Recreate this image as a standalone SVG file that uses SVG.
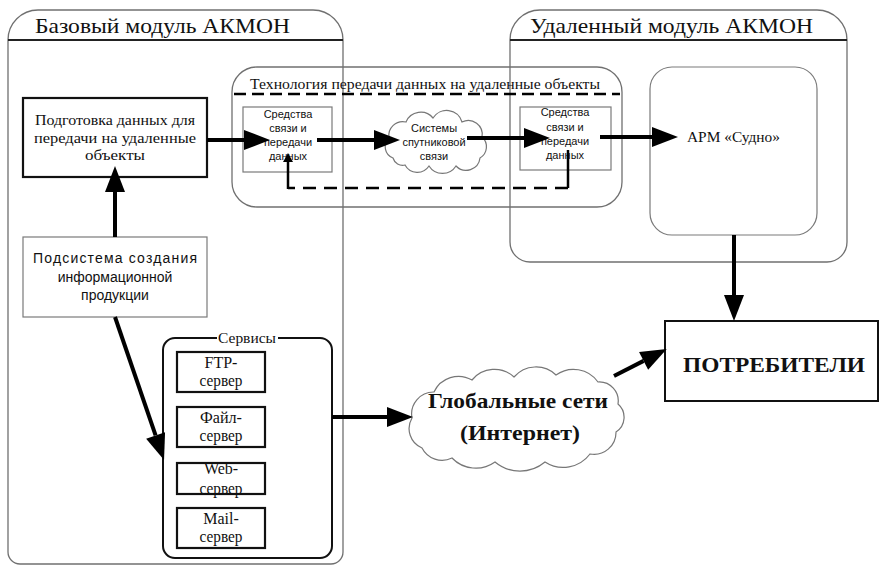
<svg xmlns="http://www.w3.org/2000/svg" width="882" height="567" viewBox="0 0 882 567">
<style>
.frame{fill:none;stroke:#707070;stroke-width:1.3}
.hline{stroke:#222;stroke-width:2}
.serif{font-family:"Liberation Serif","Times New Roman",serif;fill:#111}
.sans{font-family:"Liberation Sans",Arial,sans-serif;fill:#111}
.title{font-size:22px}
.tbox{fill:#fff;stroke:#7a7a7a;stroke-width:1.2}
.bbox{fill:#fff;stroke:#111;stroke-width:2.2}
.cloud{fill:#fff;stroke:#777;stroke-width:1.2}
.arrow{fill:none;stroke:#000;stroke-width:4;marker-end:url(#ah)}
.dash{fill:none;stroke:#000;stroke-width:2.5;stroke-dasharray:13 8}
.mid{text-anchor:middle}
</style>
<defs>
<marker id="ah" markerUnits="userSpaceOnUse" markerWidth="26" markerHeight="20" refX="0" refY="10" orient="auto" overflow="visible">
<path d="M0,0 L26,10 L0,20 z" fill="#000"/>
</marker>
<marker id="ahs" markerUnits="userSpaceOnUse" markerWidth="8" markerHeight="10" refX="0" refY="5" orient="auto" overflow="visible">
<path d="M0,0 L9,5 L0,10 z" fill="#000"/>
</marker>
</defs>
<rect width="882" height="567" fill="#fff"/>

<g id="base-module">
<path class="frame" d="M8,40 A30,30 0 0 1 38,10 L313,10 A30,30 0 0 1 343,40 L343,552 A12,12 0 0 1 331,564 L20,564 A12,12 0 0 1 8,552 Z"/>
<line class="hline" x1="8" y1="40" x2="343" y2="40"/>
<text class="serif title" x="35" y="33" textLength="255" lengthAdjust="spacingAndGlyphs">Базовый модуль АКМОН</text>
</g>

<g id="remote-module">
<path class="frame" d="M510,40 A30,30 0 0 1 540,10 L817,10 A30,30 0 0 1 847,40 L847,242 A20,20 0 0 1 827,262 L530,262 A20,20 0 0 1 510,242 Z"/>
<line class="hline" x1="510" y1="40" x2="847" y2="40"/>
<text class="serif title" x="530" y="33" textLength="283" lengthAdjust="spacingAndGlyphs">Удаленный модуль АКМОН</text>
</g>

<g id="tech">
<rect class="frame" x="232" y="67" width="390" height="140" rx="25"/>
<line x1="234" y1="94" x2="620" y2="94" stroke="#000" stroke-width="2.5" stroke-dasharray="12 6"/>
<text class="serif" x="250" y="89" font-size="15" textLength="350" lengthAdjust="spacingAndGlyphs">Технология передачи данных на удаленные объекты</text>
</g>

<g id="prep">
<rect class="bbox" x="23" y="98" width="184" height="79"/>
<text class="serif mid" font-size="14.5"><tspan x="115" y="125" textLength="160" lengthAdjust="spacingAndGlyphs">Подготовка данных для</tspan><tspan x="115" y="143" textLength="162" lengthAdjust="spacingAndGlyphs">передачи на удаленные</tspan><tspan x="115" y="160" textLength="60" lengthAdjust="spacingAndGlyphs">объекты</tspan></text>
</g>

<g id="comm-left">
<rect class="tbox" x="243" y="107" width="89" height="65"/>
<text class="sans mid" font-size="11"><tspan x="288" y="118">Средства</tspan><tspan x="288" y="132">связи и</tspan><tspan x="288" y="146">передачи</tspan><tspan x="288" y="160">данных</tspan></text>
</g>

<g id="satellite">
<path class="cloud" stroke="#000" stroke-width="1.6" d="M393,158 A12,12 0 0 1 389,138 A14,14 0 0 1 406,122 A16,16 0 0 1 433,118 A16,16 0 0 1 462,122 A14,14 0 0 1 482,137 A13,13 0 0 1 480,158 A14,14 0 0 1 456,166 A16,16 0 0 1 429,166 A14,14 0 0 1 405,165 A10,10 0 0 1 393,158 Z"/>
<text class="sans mid" font-size="11"><tspan x="434" y="132">Системы</tspan><tspan x="434" y="146">спутниковой</tspan><tspan x="434" y="160">связи</tspan></text>
</g>

<g id="comm-right">
<rect class="tbox" x="520" y="107" width="91" height="63"/>
<text class="sans mid" font-size="11"><tspan x="565" y="116">Средства</tspan><tspan x="565" y="131">связи и</tspan><tspan x="565" y="145">передачи</tspan><tspan x="565" y="159">данных</tspan></text>
</g>

<g id="arm">
<rect class="tbox" x="650" y="67" width="167" height="168" rx="22"/>
<text class="serif" x="687" y="142" font-size="15" textLength="93" lengthAdjust="spacingAndGlyphs">АРМ «Судно»</text>
</g>

<g id="subsystem">
<rect class="tbox" x="23" y="237" width="184" height="80"/>
<text class="sans mid" font-size="14"><tspan x="115" y="263" textLength="164" lengthAdjust="spacing">Подсистема  создания</tspan><tspan x="115" y="282">информационной</tspan><tspan x="115" y="300">продукции</tspan></text>
</g>

<g id="services">
<rect fill="#fff" stroke="#111" stroke-width="2" x="163" y="338" width="169" height="220" rx="12"/>
<rect x="217" y="330" width="61" height="14" fill="#fff"/>
<text class="serif mid" x="247" y="343" font-size="15" textLength="58" lengthAdjust="spacingAndGlyphs">Сервисы</text>
<rect class="bbox" x="177" y="352" width="88" height="40"/>
<text class="serif mid" font-size="16"><tspan x="221" y="368">FTP-</tspan><tspan x="221" y="386" textLength="43" lengthAdjust="spacingAndGlyphs">сервер</tspan></text>
<rect class="bbox" x="177" y="407" width="88" height="40"/>
<text class="serif mid" font-size="16"><tspan x="221" y="423" textLength="42" lengthAdjust="spacingAndGlyphs">Файл-</tspan><tspan x="221" y="441" textLength="43" lengthAdjust="spacingAndGlyphs">сервер</tspan></text>
<rect class="bbox" x="177" y="463" width="88" height="31"/>
<text class="serif mid" font-size="16"><tspan x="221" y="474">Web-</tspan><tspan x="221" y="494" textLength="43" lengthAdjust="spacingAndGlyphs">сервер</tspan></text>
<rect class="bbox" x="177" y="508" width="88" height="40"/>
<text class="serif mid" font-size="16"><tspan x="221" y="524">Mail-</tspan><tspan x="221" y="542" textLength="43" lengthAdjust="spacingAndGlyphs">сервер</tspan></text>
</g>

<g id="internet">
<path class="cloud" d="M422,448 A21,21 0 0 1 412,418 A22,22 0 0 1 434,392 A27,27 0 0 1 472,380 A29,29 0 0 1 514,377 A29,29 0 0 1 556,375 A30,30 0 0 1 598,382 A19,19 0 0 1 618,404 A17.5,17.5 0 0 1 616,432 A22,22 0 0 1 590,454 A33.5,33.5 0 0 1 545,462 A39,39 0 0 1 495,462 A33,33 0 0 1 452,458 A22.5,22.5 0 0 1 422,448 Z"/>
<text class="serif mid" font-size="22" font-weight="bold"><tspan x="518" y="408" textLength="180" lengthAdjust="spacingAndGlyphs">Глобальные сети</tspan><tspan x="520" y="440" textLength="120" lengthAdjust="spacingAndGlyphs">(Интернет)</tspan></text>
</g>

<g id="consumers">
<rect fill="#fff" stroke="#111" stroke-width="2" x="665" y="321" width="213" height="80"/>
<text class="serif mid" x="774" y="372" font-size="22" font-weight="bold" textLength="182" lengthAdjust="spacingAndGlyphs">ПОТРЕБИТЕЛИ</text>
</g>

<g id="connectors">
<line class="arrow" x1="207" y1="140" x2="244" y2="140"/>
<line class="arrow" x1="317" y1="140" x2="374" y2="140"/>
<line class="arrow" x1="467" y1="138" x2="524" y2="138"/>
<line class="arrow" x1="600" y1="137" x2="652" y2="137"/>
<line class="arrow" x1="115" y1="237" x2="115" y2="192"/>
<line class="arrow" x1="115" y1="317" x2="155.6" y2="435.4"/>
<line class="arrow" x1="332" y1="417" x2="387" y2="417"/>
<line class="arrow" x1="734" y1="235" x2="734" y2="295"/>
<line class="arrow" stroke-width="3.5" x1="614" y1="376" x2="643.6" y2="360.9"/>
<line x1="568" y1="150" x2="568" y2="188" stroke="#000" stroke-width="2.5"/>
<line class="dash" x1="568" y1="188" x2="288" y2="188"/>
<line x1="288" y1="189" x2="288" y2="162" stroke="#000" stroke-width="2.5" marker-end="url(#ahs)"/>
</g>
</svg>
